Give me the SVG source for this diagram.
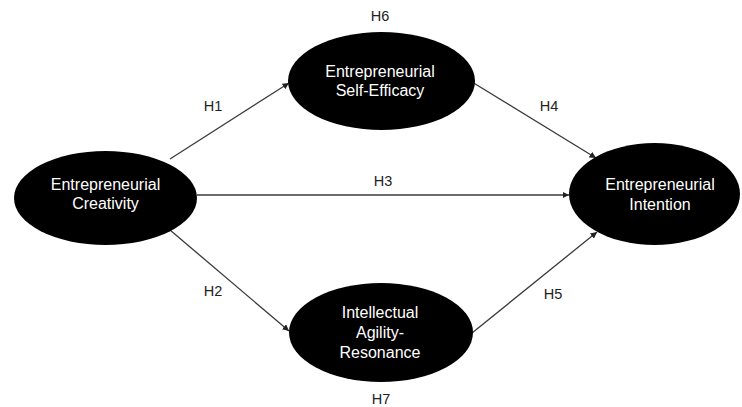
<svg xmlns="http://www.w3.org/2000/svg" width="742" height="407" viewBox="0 0 742 407">
<defs>
<style>
.node{fill:#000;}
.nt{fill:#fff;font-family:"Liberation Sans",Arial,sans-serif;font-size:16px;text-anchor:middle;}
.lbl{fill:#222;font-family:"Liberation Sans",Arial,sans-serif;font-size:14.5px;text-anchor:middle;}
.edge{stroke:#3a3a3a;stroke-width:1.3;fill:none;marker-end:url(#arr);}
</style>
<marker id="arr" viewBox="0 0 10 10" refX="10" refY="5" markerWidth="5" markerHeight="5" orient="auto" markerUnits="strokeWidth">
<path d="M0,0 L10,5 L0,10 z" fill="#222"/>
</marker>
</defs>
<rect width="742" height="407" fill="#fff"/>
<g id="connectors">
<line class="edge" x1="170" y1="159" x2="289" y2="83"/>
<line class="edge" x1="170" y1="230" x2="289" y2="331"/>
<line class="edge" x1="197" y1="195" x2="569" y2="195"/>
<line class="edge" x1="472" y1="82" x2="596" y2="158"/>
<line class="edge" x1="472" y1="333" x2="597" y2="232"/>
<text class="lbl" x="213" y="111">H1</text>
<text class="lbl" x="213" y="296">H2</text>
<text class="lbl" x="383" y="186">H3</text>
<text class="lbl" x="549" y="111">H4</text>
<text class="lbl" x="553" y="299">H5</text>
<text class="lbl" x="380" y="21">H6</text>
<text class="lbl" x="381" y="404">H7</text>
</g>
<g id="creativity">
<ellipse class="node" cx="105.5" cy="198" rx="91.5" ry="47"/>
<text class="nt" x="105.5" y="190">Entrepreneurial</text>
<text class="nt" x="105.5" y="209">Creativity</text>
</g>
<g id="selfefficacy">
<ellipse class="node" cx="381.5" cy="81" rx="93.5" ry="49"/>
<text class="nt" x="380" y="77">Entrepreneurial</text>
<text class="nt" x="380" y="96">Self-Efficacy</text>
</g>
<g id="intention">
<ellipse class="node" cx="654.5" cy="194" rx="85.5" ry="51"/>
<text class="nt" x="660" y="190">Entrepreneurial</text>
<text class="nt" x="660" y="210">Intention</text>
</g>
<g id="agility">
<ellipse class="node" cx="381" cy="332.5" rx="92" ry="49.5"/>
<text class="nt" x="380" y="318">Intellectual</text>
<text class="nt" x="380" y="338">Agility-</text>
<text class="nt" x="380" y="358">Resonance</text>
</g>
</svg>
